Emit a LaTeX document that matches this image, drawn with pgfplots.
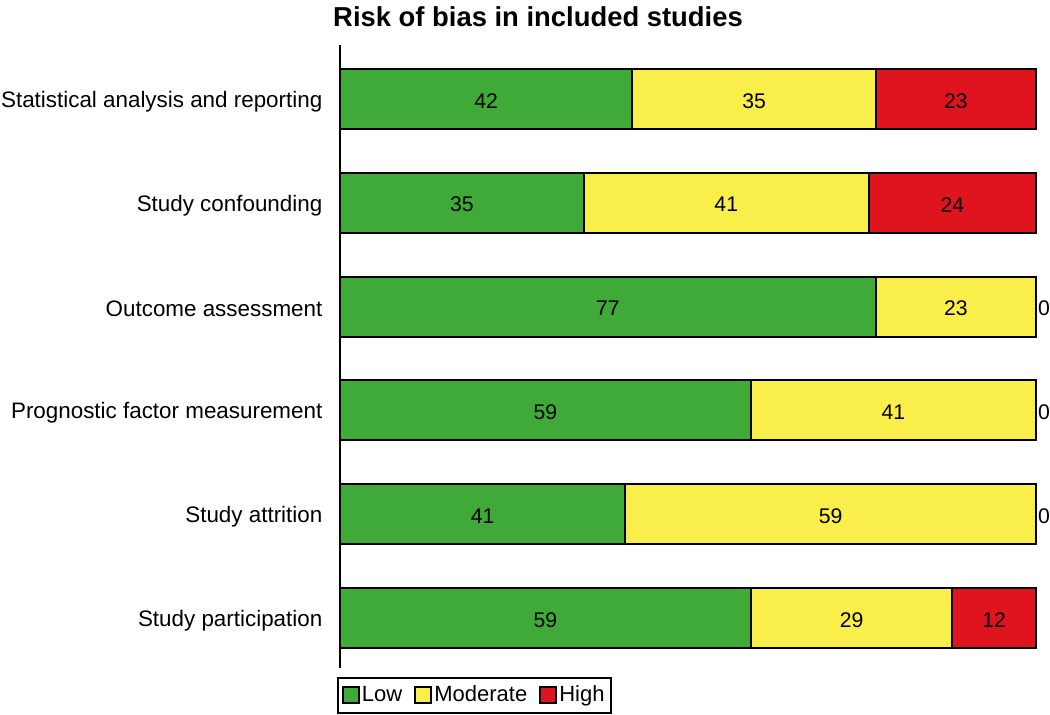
\documentclass[border=0pt]{standalone}
\usepackage{fontspec}
\setmainfont{Liberation Sans}
\usepackage{pgfplots}
\pgfplotsset{compat=1.18}
\usepackage{pgfplotstable}
\definecolor{lowc}{RGB}{64,170,56}
\definecolor{modc}{RGB}{249,238,74}
\definecolor{highc}{RGB}{224,20,30}

\pgfplotstableread{
y low mod high
0 59 29 12
1 41 59 0
2 59 41 0
3 77 23 0
4 35 41 24
5 42 35 23
}\riskdata

\pgfplotstableread{
x y lab
29.5 0 59
73.5 0 29
94 0 12
20.5 1 41
70.5 1 59
101.15 1 0
29.5 2 59
79.5 2 41
101.15 2 0
38.5 3 77
88.5 3 23
101.15 3 0
17.5 4 35
55.5 4 41
88 4 24
21 5 42
59.5 5 35
88.5 5 23
}\labdata

\begin{document}
\begin{tikzpicture}
\begin{axis}[
  at={(0,0)}, anchor=south west,
  scale only axis, width=348pt, height=311.5pt,
  xbar stacked, bar width=30pt,
  xmin=0, xmax=100, ymin=-0.48, ymax=5.52,
  axis x line=none, axis y line*=left,
  axis line style={line width=1pt},
  ytick={0,...,5},
  yticklabels={Study participation, Study attrition, Prognostic factor measurement, Outcome assessment, Study confounding, Statistical analysis and reporting},
  ytick style={draw=none},
  yticklabel style={font=\fontsize{11.2}{13}\selectfont, xshift=-5.3pt, yshift=-1.2pt},
  clip=false,
  legend columns=-1,
  legend image code/.code={\draw[#1] (0pt,-4pt) rectangle (8pt,4pt);},
  legend style={at={(0,0)}, anchor=north west, xshift=-1.5pt, yshift=-4.5pt,
    draw=black, line width=1pt, font=\fontsize{11}{13}\selectfont,
    inner xsep=2pt, inner ysep=2pt,
    /tikz/every even column/.append style={column sep=5pt},
    nodes={inner xsep=1pt}},
]
\addplot[fill=lowc, draw=black, line width=1pt] table[x=low, y=y]{\riskdata};
\addplot[fill=modc, draw=black, line width=1pt] table[x=mod, y=y]{\riskdata};
\addplot[fill=highc, draw=black, line width=1pt] table[x=high, y=y]{\riskdata};
\legend{Low, Moderate, High}
\end{axis}
\begin{axis}[
  at={(0,0)}, anchor=south west,
  scale only axis, width=348pt, height=311.5pt,
  xmin=0, xmax=100, ymin=-0.48, ymax=5.52,
  hide axis, clip=false,
]
\addplot[draw=none, mark=none, nodes near coords, point meta=explicit symbolic,
  every node near coord/.append style={anchor=center, yshift=-0.9pt, font=\fontsize{10.6}{13}\selectfont}]
  table[x=x, y=y, meta=lab]{\labdata};
\end{axis}
\node[anchor=base, font=\bfseries\fontsize{13.7}{16}\selectfont] at (99pt,320.5pt) {Risk of bias in included studies};
\pgfresetboundingbox
\useasboundingbox (-170pt,-23.5pt) rectangle (355pt,334pt);
\end{tikzpicture}
\end{document}
